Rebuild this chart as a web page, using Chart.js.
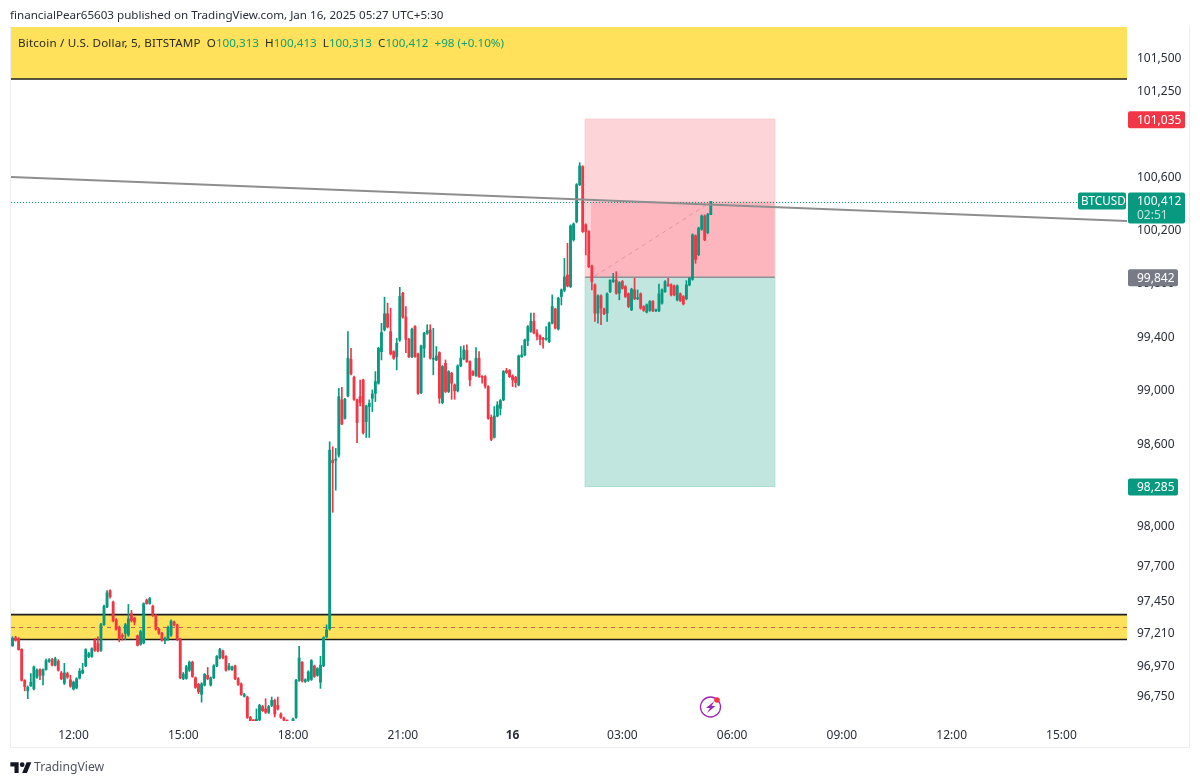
<!DOCTYPE html>
<html>
<head>
<meta charset="utf-8">
<title>BTCUSD 5m</title>
<script src="https://cdn.jsdelivr.net/npm/chart.js@4/dist/chart.umd.min.js"></script>
<style>
    html, body { margin: 0; padding: 0; background: #fff; }
    body { width: 1200px; height: 784px; position: relative; overflow: hidden; font-family: "Noto Sans", sans-serif; }
    #c { position: absolute; left: 0; top: 0; }
    .frame { position: absolute; left: 10px; top: 26px; width: 1178px; height: 721px; border: 1px solid #eceef1; border-top: 0; pointer-events: none; }
    .published { position: absolute; left: 10px; top: 7px; font-size: 11.62px; line-height: 16px; color: #2a2e39; white-space: nowrap; }
    .legend { position: absolute; left: 18px; top: 35px; font-size: 11.65px; line-height: 16px; color: #2a2a20; white-space: pre; }
    .legend span { letter-spacing: 0.17px; }
    .legend b { font-weight: normal; color: #14a06f; }
    .brand { position: absolute; left: 34px; top: 758px; font-size: 12.2px; line-height: 18px; color: #50535e; }
    .logo { position: absolute; left: 10px; top: 760px; }
    .bolt { position: absolute; left: 698px; top: 695px; }
</style>
</head>
<body>
<canvas id="c" width="1200" height="784"></canvas>
<div class="frame"></div>
<div class="published">financialPear65603 published on TradingView.com, Jan 16, 2025 05:27 UTC+5:30</div>
<div class="legend"><span>Bitcoin / U.S. Dollar, 5, BITSTAMP</span>  O<b>100,313</b>  H<b>100,413</b>  L<b>100,313</b>  C<b>100,412</b>  <b>+98 (+0.10%)</b></div>
<svg class="bolt" width="26" height="24" viewBox="0 0 26 24">
    <circle cx="12.5" cy="12" r="10" fill="none" stroke="#9c27b0" stroke-width="1.3"/>
    <path d="M16.5 6 L8 13 H12 L9 18 L17.5 11 H13.5 Z" fill="#9c27b0"/>
    <circle cx="19" cy="5" r="2.8" fill="#f23645"/>
</svg>
<svg class="logo" width="22" height="13" viewBox="0 0 36 22"><path d="M14 22H7V11H0V4h14v18zM28 22h-8l7.5-18h8L28 22z" fill="#131722"/><circle cx="20" cy="8" r="4" fill="#131722"/></svg>
<div class="brand">TradingView</div>

<script>
// 5 minute candles, first one at 10:20 on the 15th
const opens = [
    97115,97175,97170,97090,96864,96788,96826,96802,96888,96943,
    96901,96943,97003,97016,96975,97003,96918,96844,96913,96869,
    96802,96809,96881,96918,96970,97038,97038,97157,97132,97083,
    97271,97400,97519,97435,97306,97251,97194,97207,97194,97351,
    97318,97189,97127,97137,97450,97425,97405,97338,97237,97207,
    97152,97165,97194,97289,97269,97162,96876,96879,96938,96996,
    96883,96835,96763,96830,96901,96830,96883,96970,97028,97078,
    97038,96945,96943,96970,96876,96838,96749,96743,96595,96575,
    96570,96578,96674,96657,96632,96682,96719,96682,96620,96590,
    96575,96558,96563,96595,96864,96995,96856,96864,96871,96968,
    96901,96851,96970,97182,97240,98480,98480,98517,98927,98790,
    98956,99229,99095,98927,98951,99075,98765,98877,98939,98976,
    99051,99286,99450,99569,99435,99286,99249,99373,99723,99544,
    99378,99249,99473,99269,98981,99311,99423,99448,99229,99224,
    99279,98907,99199,98989,99125,99038,98994,99180,99232,99294,
    99212,99137,99108,99237,99100,99100,99026,98797,98649,98807,
    98864,98927,99145,99145,99105,99095,99038,99249,99262,99368,
    99437,99512,99425,99403,99386,99378,99361,99499,99604,99455,
    99698,99745,99859,99772,100124,100260,100539,100676,100236,100186,
    99927,99785,99574,99703,99604,99574,99735,99810,99822,99723,
    99810,99772,99718,99599,99748,99681,99718,99623,99581,99594,
    99661,99591,99591,99648,99735,99785,99785,99777,99673,99718,
    99698,99681,99785,99827,100154,100012,100203,100303,100178,100313
];
const highs = [
    97182,97185,97175,97095,96869,96824,96914,96969,96949,96949,
    96949,97020,97023,97025,97033,97015,96929,96988,96924,96901,
    96859,96884,96950,96988,97095,97068,97102,97168,97182,97280,
    97413,97519,97525,97443,97315,97260,97205,97280,97418,97375,
    97325,97195,97230,97430,97458,97470,97413,97345,97245,97215,
    97180,97260,97305,97297,97275,97170,96922,96974,97005,97004,
    96889,96843,96848,96914,96958,96889,96979,97045,97098,97085,
    97045,96988,96969,96976,96884,96846,96770,96750,96602,96580,
    96657,96690,96682,96731,96682,96743,96728,96743,96628,96598,
    96578,96564,96590,96872,97113,97002,96876,96934,97015,96976,
    96957,97040,97182,97269,98616,98579,98567,99013,99021,98938,
    99435,99311,99103,98933,99075,99081,98888,98927,99001,99137,
    99318,99497,99693,99648,99611,99293,99386,99767,99730,99623,
    99385,99461,99481,99275,99335,99431,99487,99487,99460,99324,
    99285,99183,99224,99145,99133,99046,99188,99324,99331,99336,
    99218,99145,99316,99286,99108,99108,99033,98815,98877,98914,
    98930,99145,99162,99153,99113,99103,99261,99331,99380,99480,
    99574,99574,99450,99411,99393,99473,99507,99710,99611,99693,
    99755,99984,100098,100236,100251,100547,100706,100683,100244,100192,
    99934,99793,99710,99710,99612,99725,99822,99872,99884,99810,
    99818,99780,99725,99760,99835,99747,99725,99630,99643,99668,
    99668,99603,99792,99755,99817,99835,99793,99785,99785,99725,
    99705,99817,99841,100169,100161,100219,100311,100311,100323,100413
];
const lows = [
    97113,97150,97085,96859,96788,96731,96819,96794,96879,96869,
    96832,96939,96995,96969,96969,96932,96869,96834,96879,96814,
    96794,96802,96874,96912,96964,97030,97032,97075,97072,97075,
    97265,97395,97465,97290,97230,97145,97157,97160,97185,97290,
    97269,97115,97120,97130,97420,97420,97330,97230,97200,97150,
    97132,97155,97185,97262,97155,96876,96869,96872,96929,96886,
    96806,96768,96706,96823,96869,96823,96876,96964,97020,97020,
    96932,96939,96936,96869,96828,96755,96743,96588,96558,96558,
    96558,96570,96638,96623,96623,96673,96598,96648,96588,96568,
    96553,96528,96553,96588,96856,96852,96849,96856,96864,96886,
    96894,96806,96964,97175,97230,98095,98258,98503,98743,98783,
    98948,99113,98923,98609,98882,98673,98648,98648,98840,98914,
    99043,99224,99440,99463,99261,99228,99150,99363,99535,99279,
    99241,99241,99243,98968,98973,99243,99415,99230,99113,99218,
    98902,98898,98981,98981,98931,98931,98986,99173,99225,99205,
    99031,99106,99101,99093,99051,99013,98783,98624,98643,98801,
    98815,98920,99123,99093,99026,99021,99031,99243,99255,99331,
    99430,99418,99373,99336,99311,99371,99353,99493,99455,99447,
    99635,99735,99770,99765,100114,100251,100532,100179,100010,99915,
    99748,99512,99499,99487,99562,99512,99727,99803,99715,99673,
    99753,99690,99615,99592,99675,99674,99603,99587,99575,99587,
    99584,99584,99584,99641,99728,99773,99703,99703,99665,99660,
    99635,99673,99778,99820,99947,100004,100195,100117,100169,100313
];
const closes = [
    97170,97157,97088,96864,96819,96814,96851,96963,96938,96901,
    96943,97008,97013,96975,97021,96938,96876,96918,96888,96822,
    96851,96876,96931,96938,97088,97058,97095,97083,97078,97271,
    97405,97504,97475,97301,97237,97170,97182,97269,97313,97301,
    97289,97120,97219,97425,97425,97462,97338,97237,97207,97157,
    97170,97251,97296,97269,97162,96883,96909,96963,96996,96893,
    96813,96781,96838,96908,96876,96883,96970,97038,97090,97028,
    96938,96968,96963,96876,96835,96761,96761,96595,96570,96570,
    96582,96682,96644,96632,96674,96719,96620,96657,96595,96575,
    96565,96543,96585,96864,97028,96859,96869,96926,97008,96893,
    96950,96975,97175,97232,98554,98460,98487,98951,98748,98931,
    99237,99120,98931,98758,98907,98683,98882,98902,98971,99063,
    99311,99428,99569,99470,99269,99237,99348,99698,99544,99378,
    99249,99453,99249,98976,99329,99423,99443,99237,99237,99254,
    98939,99175,98989,99137,99051,98994,99180,99237,99299,99212,
    99075,99113,99237,99100,99095,99031,98790,98634,98807,98889,
    98922,99137,99130,99100,99075,99056,99254,99262,99373,99473,
    99512,99425,99400,99378,99378,99386,99499,99623,99462,99685,
    99748,99845,99777,100228,100243,100539,100681,100186,100186,99922,
    99810,99574,99703,99611,99569,99718,99822,99822,99723,99802,
    99760,99698,99624,99753,99681,99687,99611,99594,99636,99661,
    99591,99596,99718,99748,99810,99780,99710,99710,99777,99668,
    99643,99785,99834,100161,99976,100211,100303,100124,100313,100412
];

// axes
const priceTicks = [101500, 101250, 100600, 100200, 99800, 99400, 99000, 98600, 98000, 97700, 97450, 97210, 96970, 96750];
const timeTickSlots = [20, 56, 92, 128, 164, 200, 236, 272, 308, 344];
const timeTickLabels = ['12:00', '15:00', '18:00', '21:00', '16', '03:00', '06:00', '09:00', '12:00', '15:00'];

// drawings on the chart, in price and candle slot units
const upperZone = [101737, 101340];
const lowerZone = [97344, 97162];
const lowerZoneMid = 97253;
const trendSlots = [-0.5, 365.5];
const trendPrices = [100597, 100265];
const lastPrice = 100412;
const riskSlots = [187.8, 250];
const riskProfitStartSlot = 189.7;
const stopPrice = 101035;
const entryPrice = 99842;
const targetPrice = 98285;
const pathSlots = [191, 228];
const pathPrices = [99851, 100393];

const UP = '#089981';
const DOWN = '#f23645';
const FONT = '"Noto Sans", sans-serif';

function candleColors() {
    return opens.map((o, i) => closes[i] >= o ? UP : DOWN);
}

const drawingsPlugin = {
    id: 'drawings',
    beforeDatasetsDraw(chart) {
        const { ctx, chartArea: a, scales: { x, y } } = chart;
        ctx.save();
        ctx.beginPath();
        ctx.rect(a.left, a.top, a.right - a.left, a.bottom - a.top);
        ctx.clip();

        // yellow zones
        ctx.fillStyle = '#ffe15b';
        ctx.fillRect(a.left, y.getPixelForValue(upperZone[0]), a.right - a.left, y.getPixelForValue(upperZone[1]) - y.getPixelForValue(upperZone[0]));
        ctx.fillRect(a.left, y.getPixelForValue(lowerZone[0]), a.right - a.left, y.getPixelForValue(lowerZone[1]) - y.getPixelForValue(lowerZone[0]));
        ctx.strokeStyle = '#1e1e1e';
        ctx.lineWidth = 1.6;
        [upperZone[1], lowerZone[0], lowerZone[1]].forEach(p => {
            ctx.beginPath();
            ctx.moveTo(a.left, y.getPixelForValue(p));
            ctx.lineTo(a.right, y.getPixelForValue(p));
            ctx.stroke();
        });
        ctx.strokeStyle = '#cf5f4c';
        ctx.lineWidth = 1;
        ctx.setLineDash([4, 4]);
        ctx.beginPath();
        ctx.moveTo(a.left, Math.round(y.getPixelForValue(lowerZoneMid)) + 0.5);
        ctx.lineTo(a.right, Math.round(y.getPixelForValue(lowerZoneMid)) + 0.5);
        ctx.stroke();
        ctx.setLineDash([]);

        // risk / reward box
        const x0 = x.getPixelForValue(riskSlots[0]);
        const x1 = x.getPixelForValue(riskSlots[1]);
        const xp = x.getPixelForValue(riskProfitStartSlot);
        const yStop = y.getPixelForValue(stopPrice);
        const yEntry = y.getPixelForValue(entryPrice);
        const yTarget = y.getPixelForValue(targetPrice);
        const yLast = y.getPixelForValue(lastPrice);
        ctx.fillStyle = '#fdd5d9';
        ctx.fillRect(x0, yStop, x1 - x0, yEntry - yStop);
        ctx.fillStyle = '#fdb6bd';
        ctx.fillRect(xp, yLast, x1 - xp, yEntry - yLast);
        ctx.fillStyle = '#c1e6df';
        ctx.fillRect(x0, yEntry, x1 - x0, yTarget - yEntry);
        ctx.strokeStyle = '#a9ddd3';
        ctx.lineWidth = 1;
        ctx.strokeRect(x0, yEntry, x1 - x0, yTarget - yEntry);
        ctx.strokeStyle = '#fbc7cc';
        ctx.strokeRect(x0, yStop, x1 - x0, yEntry - yStop);
        ctx.strokeStyle = '#8f8f94';
        ctx.lineWidth = 1.5;
        ctx.beginPath();
        ctx.moveTo(x0, yEntry);
        ctx.lineTo(x1, yEntry);
        ctx.stroke();

        // last price dotted line
        ctx.strokeStyle = UP;
        ctx.lineWidth = 1;
        ctx.setLineDash([1, 2]);
        ctx.beginPath();
        ctx.moveTo(a.left, Math.round(yLast) + 0.5);
        ctx.lineTo(a.right - 49, Math.round(yLast) + 0.5);
        ctx.stroke();
        ctx.restore();
    },
    afterDraw(chart) {
        const { ctx, scales: { y } } = chart;
        function tag(left, width, top, height, color) {
            ctx.fillStyle = color;
            ctx.beginPath();
            ctx.roundRect(left, top, width, height, 2);
            ctx.fill();
        }
        function text(str, px, py, color) {
            ctx.fillStyle = color;
            ctx.fillText(str, px, py);
        }
        ctx.save();
        ctx.font = '12px ' + FONT;
        ctx.textBaseline = 'middle';
        ctx.textAlign = 'left';

        [[stopPrice, DOWN, '101,035', 57], [entryPrice, '#787b86', '99,842', 50], [targetPrice, UP, '98,285', 50]].forEach(t => {
            const py = y.getPixelForValue(t[0]);
            tag(1128, t[3], py - 8, 17, t[1]);
            text(t[2], 1137, py + 1, '#fff');
        });

        const py = y.getPixelForValue(lastPrice);
        tag(1128, 57, py - 9, 31, UP);
        text('100,412', 1137, py, '#fff');
        text('02:51', 1137, py + 14, '#bfe6de');
        tag(1078, 48, py - 9, 17, UP);
        ctx.font = '11.7px ' + FONT;
        text('BTCUSD', 1081, py, '#fff');
        ctx.restore();
    }
};

document.addEventListener('DOMContentLoaded', function() {
    const colors = candleColors();

    new Chart(document.getElementById('c'), {
        data: {
            datasets: [
                {
                    type: 'line',
                    order: 0,
                    data: trendSlots.map((s, i) => ({ x: s, y: trendPrices[i] })),
                    borderColor: '#8e8e90',
                    borderWidth: 2,
                    pointRadius: 0
                },
                {
                    type: 'line',
                    order: 0,
                    data: pathSlots.map((s, i) => ({ x: s, y: pathPrices[i] })),
                    borderColor: '#d99aa2',
                    borderWidth: 1,
                    borderDash: [4, 4],
                    pointRadius: 0
                },
                {
                    type: 'bar',
                    order: 1,
                    grouped: false,
                    data: opens.map((o, i) => ({ x: i, y: [o, closes[i]] })),
                    backgroundColor: colors,
                    barThickness: 2.2,
                    minBarLength: 1
                },
                {
                    type: 'bar',
                    order: 2,
                    grouped: false,
                    data: highs.map((h, i) => ({ x: i, y: [lows[i], h] })),
                    backgroundColor: colors,
                    barThickness: 1
                }
            ]
        },
        options: {
            responsive: false,
            animation: false,
            events: [],
            layout: { padding: { left: 11, top: 24 } },
            plugins: { legend: { display: false }, tooltip: { enabled: false } },
            scales: {
                x: {
                    type: 'linear',
                    offset: false,
                    min: -0.5,
                    max: 365.5,
                    grid: { display: false, drawTicks: false },
                    border: { display: false },
                    afterBuildTicks(axis) { axis.ticks = timeTickSlots.map(v => ({ value: v })); },
                    afterFit(axis) { axis.height = 63; },
                    ticks: {
                        autoSkip: false,
                        maxRotation: 0,
                        padding: 7,
                        color: '#2a2e39',
                        font: ctx => ({ family: FONT, size: 12, weight: ctx.tick && ctx.tick.value === 164 ? 'bold' : 'normal' }),
                        callback: v => timeTickLabels[timeTickSlots.indexOf(v)]
                    }
                },
                y: {
                    type: 'logarithmic',
                    position: 'right',
                    min: 96569,
                    max: 101760,
                    grid: { display: false, drawTicks: false },
                    border: { display: false },
                    afterBuildTicks(axis) { axis.ticks = priceTicks.map(v => ({ value: v })); },
                    afterFit(axis) { axis.width = 73; },
                    ticks: {
                        autoSkip: false,
                        padding: 10,
                        labelOffset: 1,
                        color: '#2a2e39',
                        font: { family: FONT, size: 12 },
                        callback: v => v.toLocaleString('en-US')
                    }
                }
            }
        },
        plugins: [drawingsPlugin]
    });
});
</script>
</body>
</html>
